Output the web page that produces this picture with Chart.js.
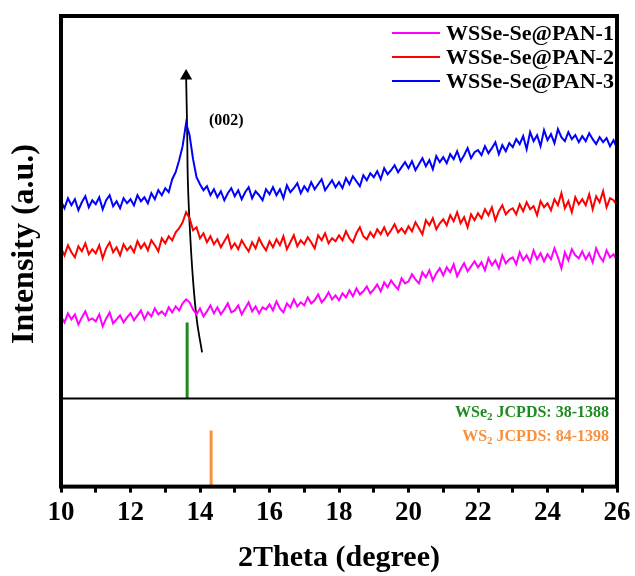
<!DOCTYPE html>
<html>
<head>
<meta charset="utf-8">
<script src="https://cdn.jsdelivr.net/npm/chart.js@4.4.1/dist/chart.umd.min.js"></script>
<style>
  body { margin: 0; background: #fff; }
</style>
</head>
<body>
<canvas id="xrd" width="635" height="576"></canvas>
<script>
// 2theta grid of the scans
const thetaStart = 10;
const thetaStep = 0.1;

// intensities (a.u., offset traces), one value per 0.1 degree from 10 to 26
const pan1 = [
  82, 76, 85, 79, 84, 74, 81, 87, 78, 80,
  77, 84, 72, 80, 86, 75, 79, 83, 76, 81,
  85, 78, 83, 88, 79, 86, 82, 90, 84, 87,
  83, 91, 86, 92, 88, 95, 99, 96, 89, 84,
  90, 82, 87, 93, 85, 91, 84, 89, 95, 86,
  88, 93, 84, 90, 96, 87, 92, 85, 91, 89,
  94, 88, 97, 90, 86, 95, 91, 99, 92, 96,
  93, 101, 95, 98, 104, 96, 100, 106, 99, 103,
  98, 105, 101, 108, 102, 110, 104, 107, 112, 105,
  109, 114, 107, 116, 111, 118, 113, 109, 120, 115,
  117, 124, 119, 115, 126, 121, 128, 118, 125, 130,
  123, 131, 126, 134, 122, 129, 135, 127, 132, 137,
  131, 136, 128, 140, 133, 138, 130, 143, 135, 139,
  141, 134, 146, 138, 143, 136, 148, 139, 145, 137,
  144, 139, 150, 141, 130, 146, 138, 149, 143, 140,
  147, 139, 145, 136, 150, 142, 137, 148, 141, 144,
  138
];
const pan2 = [
  150, 143, 153, 146, 141, 152, 147, 155, 144, 149,
  145, 153, 140, 150, 156, 146, 151, 143, 154, 148,
  152, 146, 157, 150, 155, 148, 158, 153, 147, 160,
  155, 162, 158, 166, 170, 176, 186, 180, 168, 171,
  160, 165, 156, 162, 154, 159, 151, 157, 163, 150,
  155, 149, 158, 152, 147, 156, 150, 160, 153, 148,
  157, 151, 159, 153, 162, 149, 156, 163, 152, 158,
  154, 161, 156, 150, 163, 158, 165, 155, 160, 157,
  163, 158, 167, 160, 156, 165, 171, 162, 159, 166,
  161, 169, 164, 171, 163, 168, 174, 166, 170, 165,
  172, 167, 176, 170, 164, 178, 173, 180, 169, 175,
  179, 173, 183, 177, 186, 175, 181, 171, 184, 178,
  185, 180, 189, 183, 191, 178, 187, 193, 184, 188,
  190, 184, 194, 187, 196, 189, 192, 183, 197, 191,
  195, 188, 199, 193, 205, 190, 197, 186, 201, 194,
  199, 193, 204, 189, 202, 196, 207, 191, 200, 198,
  193
];
const pan3 = [
  197, 190, 200, 193, 199, 188, 196, 202, 191, 198,
  194, 201, 189, 198, 203, 192, 197, 190, 200, 195,
  199, 193, 203, 197, 201, 195, 205, 199, 208, 203,
  210, 206, 219, 226, 238, 252, 275, 263, 239, 221,
  214, 208, 212, 203, 209, 201, 207, 198, 205, 210,
  202, 208, 199, 206, 211, 200, 207, 203, 198, 209,
  204, 211, 203, 209, 200, 213, 206, 210, 215, 205,
  212, 207, 216, 209, 214, 219, 208, 213, 218, 211,
  216, 210, 220, 214, 222, 217, 212, 223, 218, 225,
  221, 227, 219, 230, 224, 228, 233, 226, 231, 236,
  230, 237, 228, 234, 240, 232, 238, 229, 242, 236,
  241, 235, 244, 239, 247, 237, 243, 250, 240, 246,
  248, 243, 252, 245, 250, 256, 244, 253, 247, 255,
  251, 259, 254, 262, 249, 266, 257, 263, 252, 268,
  258, 264, 255, 269, 261, 257, 266, 259, 263, 256,
  262, 257, 265, 259, 254, 261, 256, 260, 252, 258,
  250
];
const seriesNames = ['WSSe-Se@PAN-1', 'WSSe-Se@PAN-2', 'WSSe-Se@PAN-3'];
const seriesColors = ['#ff00ff', '#ff0000', '#0000ff'];

// standard reference peaks (lower panel uses negative levels)
const wse2Theta = 13.63;
const wse2Span = [0, 76];
const ws2Theta = 14.32;
const ws2Span = [-88, -32];

// arrow following the (002) shift, top to bottom
const arrowTheta = [13.60, 13.63, 13.65, 13.71, 13.80, 13.91, 14.06];
const arrowLevel = [322, 268, 218, 168, 118, 78, 46];

const FONT = "'Liberation Serif', 'Times New Roman', serif";

function toPoints(vals) {
  return vals.map((v, i) => ({ x: +(thetaStart + i * thetaStep).toFixed(2), y: v }));
}

// frame, divider, legend and labels
const decor = {
  id: 'decor',
  afterDraw(chart) {
    const ctx = chart.ctx;
    const a = chart.chartArea;
    const ys = chart.scales.y;
    ctx.save();
    ctx.strokeStyle = '#000';
    ctx.lineWidth = 4;
    ctx.strokeRect(a.left, a.top, a.right - a.left, a.bottom - a.top);
    const yd = ys.getPixelForValue(0);
    ctx.lineWidth = 2;
    ctx.beginPath();
    ctx.moveTo(a.left, yd);
    ctx.lineTo(a.right, yd);
    ctx.stroke();

    // legend
    ctx.font = 'bold 22px ' + FONT;
    ctx.textBaseline = 'middle';
    ctx.textAlign = 'left';
    for (let i = 0; i < seriesNames.length; i++) {
      const y = a.top + 17 + i * 24;
      ctx.strokeStyle = seriesColors[i];
      ctx.lineWidth = 2;
      ctx.beginPath();
      ctx.moveTo(392, y);
      ctx.lineTo(440, y);
      ctx.stroke();
      ctx.fillStyle = '#000';
      ctx.fillText(seriesNames[i], 446, y + 1);
    }

    // (002)
    ctx.font = 'bold 16px ' + FONT;
    ctx.fillText('(002)', 209, 121);

    // reference labels, right aligned
    function subLabel(pre, sub, post, right, y, color) {
      ctx.fillStyle = color;
      ctx.font = 'bold 16px ' + FONT;
      const w1 = ctx.measureText(pre).width;
      const w3 = ctx.measureText(post).width;
      ctx.font = 'bold 11px ' + FONT;
      const w2 = ctx.measureText(sub).width;
      let x = right - w1 - w2 - w3;
      ctx.textAlign = 'left';
      ctx.font = 'bold 16px ' + FONT;
      ctx.fillText(pre, x, y);
      ctx.font = 'bold 11px ' + FONT;
      ctx.fillText(sub, x + w1, y + 4);
      ctx.font = 'bold 16px ' + FONT;
      ctx.fillText(post, x + w1 + w2, y);
    }
    subLabel('WSe', '2', ' JCPDS: 38-1388', 609, 413, '#1f8a1f');
    subLabel('WS', '2', ' JCPDS: 84-1398', 609, 437, '#f7913d');

    // y title
    ctx.fillStyle = '#000';
    ctx.font = 'bold 32px ' + FONT;
    ctx.translate(25, 244);
    ctx.rotate(-Math.PI / 2);
    ctx.textAlign = 'center';
    ctx.textBaseline = 'middle';
    ctx.fillText('Intensity (a.u.)', 0, 0);
    ctx.restore();
  }
};

const traces = [pan1, pan2, pan3].map((vals, i) => ({
  data: toPoints(vals),
  borderColor: seriesColors[i],
  borderWidth: 2,
  pointRadius: 0,
  tension: 0
}));

new Chart(document.getElementById('xrd'), {
  type: 'line',
  data: {
    datasets: [
      ...traces,
      {
        data: wse2Span.map(v => ({ x: wse2Theta, y: v })),
        borderColor: '#1f8a1f', borderWidth: 3, pointRadius: 0
      },
      {
        data: ws2Span.map(v => ({ x: ws2Theta, y: v })),
        borderColor: '#f7913d', borderWidth: 3, pointRadius: 0
      },
      {
        data: arrowTheta.map((t, i) => ({ x: t, y: arrowLevel[i] })),
        borderColor: '#000', backgroundColor: '#000', borderWidth: 1.8,
        cubicInterpolationMode: 'default', tension: 0.4,
        pointStyle: 'triangle',
        pointRadius: arrowLevel.map((v, i) => (i === 0 ? 7 : 0)),
        pointBorderWidth: 0
      }
    ]
  },
  options: {
    responsive: false,
    animation: false,
    layout: { padding: { left: 61, right: 18, top: 16, bottom: 0 } },
    plugins: { legend: { display: false }, tooltip: { enabled: false } },
    scales: {
      x: {
        type: 'linear',
        min: 10, max: 26,
        border: { display: false },
        grid: { drawOnChartArea: false, drawTicks: true, tickLength: 6, tickWidth: 3, tickColor: '#000' },
        ticks: {
          stepSize: 1, autoSkip: false, maxRotation: 0, padding: 4,
          color: '#000',
          font: { family: FONT, size: 27, weight: 'bold' },
          callback: v => (v % 2 === 0 ? v : '')
        },
        title: {
          display: true, text: '2Theta (degree)', color: '#000',
          font: { family: FONT, size: 30, weight: 'bold' },
          padding: { top: 7, bottom: 0 }
        }
      },
      y: {
        display: false,
        min: -88, max: 382
      }
    }
  },
  plugins: [decor]
});
</script>
</body>
</html>
